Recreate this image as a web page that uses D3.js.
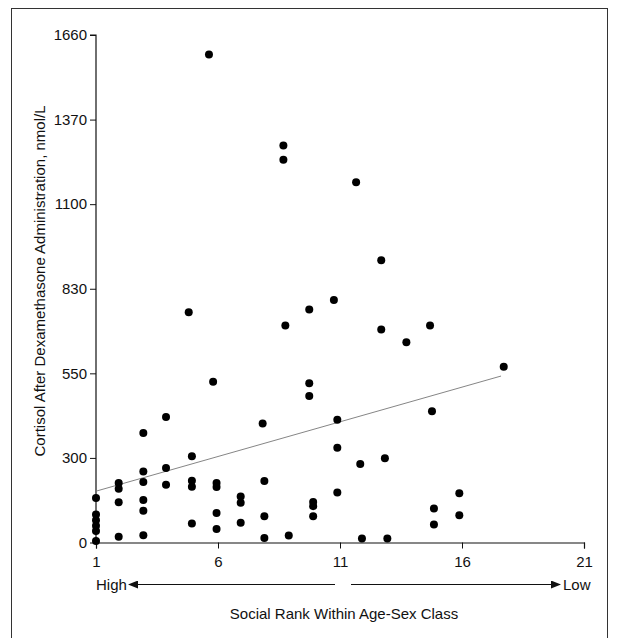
<!DOCTYPE html>
<html>
<head>
<meta charset="utf-8">
<script src="https://cdn.jsdelivr.net/npm/d3@7"></script>
<style>
  body { margin: 0; background: #fff; }
  svg text { font-family: "Liberation Sans", Arial, sans-serif; fill: #111; }
</style>
</head>
<body>
<svg id="chart" width="620" height="638"></svg>
<script>
// social rank (x) and cortisol in nmol/L (y)
var rank = [
  1, 1, 1, 1, 1, 1,
  1.93, 1.93, 1.93, 1.93,
  2.94, 2.94, 2.94, 2.94, 2.94, 2.94,
  3.87, 3.87, 3.87,
  4.8,
  4.93, 4.93, 4.93, 4.93,
  5.63, 5.8,
  5.94, 5.94, 5.94, 5.94,
  6.93, 6.93, 6.93,
  7.83, 7.9, 7.9, 7.9,
  8.68, 8.68, 8.76, 8.9,
  9.74, 9.74, 9.74, 9.9, 9.9, 9.9,
  10.75, 10.89, 10.89, 10.89,
  11.66, 11.83, 11.9,
  12.69, 12.69, 12.84, 12.94,
  13.72,
  14.69, 14.77, 14.85, 14.85,
  15.89, 15.89,
  17.71
];
var cortisol = [
  158, 99, 79, 59, 41, 5,
  211, 191, 143, 20,
  374, 252, 215, 151, 113, 26,
  421, 264, 205,
  752,
  305, 219, 198, 67,
  1593, 525,
  211, 197, 105, 48,
  163, 141, 70,
  402, 218, 93, 16,
  1287, 1242, 708, 25,
  761, 521, 483, 144, 129, 93,
  793, 413, 330, 177,
  1170, 278, 14,
  921, 695, 299, 14,
  653,
  708, 438, 121, 64,
  175, 97,
  572
];

// regression line end points
var fitRank = [1, 17.6];
var fitCortisol = [182, 542];

var yTicks = [0, 300, 550, 830, 1100, 1370, 1660];
var xTicks = [1, 6, 11, 16, 21];

var margin = {top: 35, left: 96};
var width = 488, height = 507.5;
var fontSize = "15px";

var svg = d3.select("#chart");

// frame round the figure
svg.append("rect")
    .attr("x", 11.5).attr("y", 8.5)
    .attr("width", 596).attr("height", 640)
    .attr("fill", "none")
    .attr("stroke", "#333")
    .attr("stroke-width", 1);

var g = svg.append("g")
    .attr("transform", "translate(" + margin.left + "," + margin.top + ")");

var x = d3.scaleLinear().domain([1, 21]).range([0, width]);

// the y ticks are evenly spaced although their values are not
var y = d3.scaleLinear()
    .domain(yTicks)
    .range(yTicks.map(function (d, i) { return height - i * height / (yTicks.length - 1); }));

var yAxis = g.append("g")
    .call(d3.axisLeft(y).tickValues(yTicks).tickSize(6).tickPadding(3).tickFormat(d3.format("d")));
var xAxis = g.append("g")
    .attr("transform", "translate(0," + height + ")")
    .call(d3.axisBottom(x).tickValues(xTicks).tickSize(6).tickPadding(8).tickFormat(d3.format("d")));

[xAxis, yAxis].forEach(function (a) {
    a.select(".domain").attr("stroke", "#111").attr("stroke-width", 1.2);
    a.selectAll(".tick line").attr("stroke", "#111");
    a.selectAll(".tick text").attr("fill", "#111").style("font-size", fontSize);
});
yAxis.select(".domain").attr("d", "M0," + height + "V0H-6");

// fit line
g.append("line")
    .attr("x1", x(fitRank[0])).attr("y1", y(fitCortisol[0]))
    .attr("x2", x(fitRank[1])).attr("y2", y(fitCortisol[1]))
    .attr("stroke", "#777")
    .attr("stroke-width", 0.9);

// dots
g.selectAll("circle")
    .data(rank)
    .enter()
    .append("circle")
    .attr("cx", function (d) { return x(d); })
    .attr("cy", function (d, i) { return y(cortisol[i]); })
    .attr("r", 4)
    .attr("fill", "#000");

// y axis title
g.append("text")
    .attr("transform", "rotate(-90)")
    .attr("x", -246)
    .attr("y", -51)
    .attr("text-anchor", "middle")
    .style("font-size", fontSize)
    .text("Cortisol After Dexamethasone Administration, nmol/L");

// High <-- --> Low
var arrowY = height + 42;
var defs = svg.append("defs");
defs.append("marker")
    .attr("id", "head")
    .attr("viewBox", "0 0 10 8")
    .attr("refX", 9).attr("refY", 4)
    .attr("markerWidth", 10).attr("markerHeight", 8)
    .attr("markerUnits", "userSpaceOnUse")
    .attr("orient", "auto-start-reverse")
    .append("path")
    .attr("d", "M0,0L10,4L0,8Z")
    .attr("fill", "#111");

g.append("text")
    .attr("x", 0).attr("y", arrowY + 5)
    .style("font-size", fontSize)
    .text("High");
g.append("line")
    .attr("x1", 239).attr("y1", arrowY)
    .attr("x2", 33).attr("y2", arrowY)
    .attr("stroke", "#111").attr("stroke-width", 1.2)
    .attr("marker-end", "url(#head)");
g.append("line")
    .attr("x1", 255).attr("y1", arrowY)
    .attr("x2", 464).attr("y2", arrowY)
    .attr("stroke", "#111").attr("stroke-width", 1.2)
    .attr("marker-end", "url(#head)");
g.append("text")
    .attr("x", 467).attr("y", arrowY + 5)
    .style("font-size", fontSize)
    .text("Low");

// x axis title
g.append("text")
    .attr("x", 248).attr("y", height + 76)
    .attr("text-anchor", "middle")
    .style("font-size", fontSize)
    .text("Social Rank Within Age-Sex Class");
</script>
</body>
</html>
